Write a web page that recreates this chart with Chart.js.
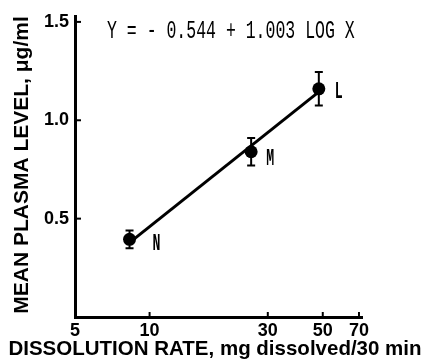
<!DOCTYPE html>
<html>
<head>
<meta charset="utf-8">
<script src="https://cdn.jsdelivr.net/npm/chart.js@4.4.1/dist/chart.umd.min.js"></script>
<style>
  html, body { margin: 0; padding: 0; background: #fff; }
  #wrap { width: 425px; height: 362px; }
</style>
</head>
<body>
<div id="wrap"><canvas id="chart" width="425" height="362"></canvas></div>
<script>
// values
const pointLabels = ['N', 'M', 'L'];
const dissolutionRate = [8.3, 25.7, 48.2];      // mg dissolved / 30 min
const plasmaLevel = [0.395, 0.84, 1.16];        // ug/ml
const plasmaError = [0.045, 0.07, 0.085];
const fitX = [8.3, 48.2];
const fitY = [0.378, 1.144];
const xTicks = [5, 10, 30, 50, 70];
const yTicks = [0.5, 1.0, 1.5];
const equation = 'Y = - 0.544 + 1.003 LOG X';

const labelOffsets = [[27, 5], [19, 7], [20, 3]];

const extras = {
  id: 'extras',
  afterDatasetsDraw(chart) {
    const ctx = chart.ctx;
    const x = chart.scales.x, y = chart.scales.y;
    const area = chart.chartArea;
    ctx.save();
    ctx.strokeStyle = '#000';
    ctx.fillStyle = '#000';

    // error bars
    ctx.lineWidth = 2;
    dissolutionRate.forEach((v, i) => {
      const px = x.getPixelForValue(v);
      const top = y.getPixelForValue(plasmaLevel[i] + plasmaError[i]);
      const bot = y.getPixelForValue(plasmaLevel[i] - plasmaError[i]);
      ctx.beginPath();
      ctx.moveTo(px, top); ctx.lineTo(px, bot);
      ctx.moveTo(px - 4, top); ctx.lineTo(px + 4, top);
      ctx.moveTo(px - 4, bot); ctx.lineTo(px + 4, bot);
      ctx.stroke();
    });

    // inward ticks
    ctx.lineWidth = 2;
    yTicks.forEach(v => {
      const py = y.getPixelForValue(v);
      ctx.beginPath();
      ctx.moveTo(area.left, py); ctx.lineTo(area.left + 6, py);
      ctx.stroke();
    });
    xTicks.slice(1).forEach(v => {
      const px = x.getPixelForValue(v);
      ctx.beginPath();
      ctx.moveTo(px, area.bottom); ctx.lineTo(px, area.bottom - 5);
      ctx.stroke();
    });

    // point letters and equation, narrow typewriter look
    ctx.textAlign = 'left';
    ctx.textBaseline = 'middle';
    ctx.font = 'bold 24px "Liberation Mono"';
    pointLabels.forEach((t, i) => {
      const px = x.getPixelForValue(dissolutionRate[i]) + labelOffsets[i][0];
      const py = y.getPixelForValue(plasmaLevel[i]) + labelOffsets[i][1];
      ctx.save();
      ctx.translate(px - 4, py);
      ctx.scale(0.55, 1);
      ctx.fillText(t, 0, 0);
      ctx.restore();
    });
    ctx.save();
    ctx.translate(107, 31);
    ctx.scale(0.635, 1);
    ctx.font = '26px "Liberation Mono"';
    ctx.fillText(equation, 0, 0);
    ctx.restore();

    // axis titles
    ctx.textAlign = 'center';
    ctx.font = 'bold 20.5px "Liberation Sans", Arial, sans-serif';
    ctx.fillText('DISSOLUTION RATE, mg dissolved/30 min', 215, 349);
    ctx.font = 'bold 21px "Liberation Sans", Arial, sans-serif';
    ctx.save();
    ctx.translate(22, 165);
    ctx.rotate(-Math.PI / 2);
    ctx.fillText('MEAN PLASMA LEVEL, \u03bcg/ml', 0, 0);
    ctx.restore();
    ctx.restore();
  }
};

const tickFont = { family: 'Liberation Sans', size: 18, weight: 'bold' };

new Chart(document.getElementById('chart'), {
  type: 'scatter',
  data: {
    datasets: [
      {
        type: 'line',
        data: fitX.map((v, i) => ({ x: v, y: fitY[i] })),
        borderColor: '#000',
        borderWidth: 3,
        pointRadius: 0,
        fill: false
      },
      {
        data: dissolutionRate.map((v, i) => ({ x: v, y: plasmaLevel[i] })),
        backgroundColor: '#000',
        borderColor: '#000',
        pointRadius: 6.5,
        pointBorderWidth: 0
      }
    ]
  },
  options: {
    responsive: false,
    animation: false,
    events: [],
    layout: { padding: { top: 16, right: 63, left: 0, bottom: 0 } },
    plugins: { legend: { display: false }, tooltip: { enabled: false } },
    scales: {
      x: {
        type: 'logarithmic',
        min: 5,
        max: 72,
        grid: { display: false, tickLength: 3 },
        border: { display: true, color: '#000', width: 3 },
        afterBuildTicks: s => { s.ticks = xTicks.map(v => ({ value: v })); },
        afterFit: s => { s.height = 45; },
        ticks: {
          color: '#000',
          font: tickFont,
          padding: 0,
          maxRotation: 0,
          autoSkip: false,
          callback: v => String(v)
        }
      },
      y: {
        min: 0,
        max: 1.53,
        grid: { display: false, tickLength: 4 },
        border: { display: true, color: '#000', width: 3 },
        afterBuildTicks: s => { s.ticks = yTicks.map(v => ({ value: v })); },
        afterFit: s => { s.width = 75; },
        ticks: {
          color: '#000',
          font: tickFont,
          padding: 2,
          callback: v => v.toFixed(1)
        }
      }
    }
  },
  plugins: [extras]
});
</script>
</body>
</html>
